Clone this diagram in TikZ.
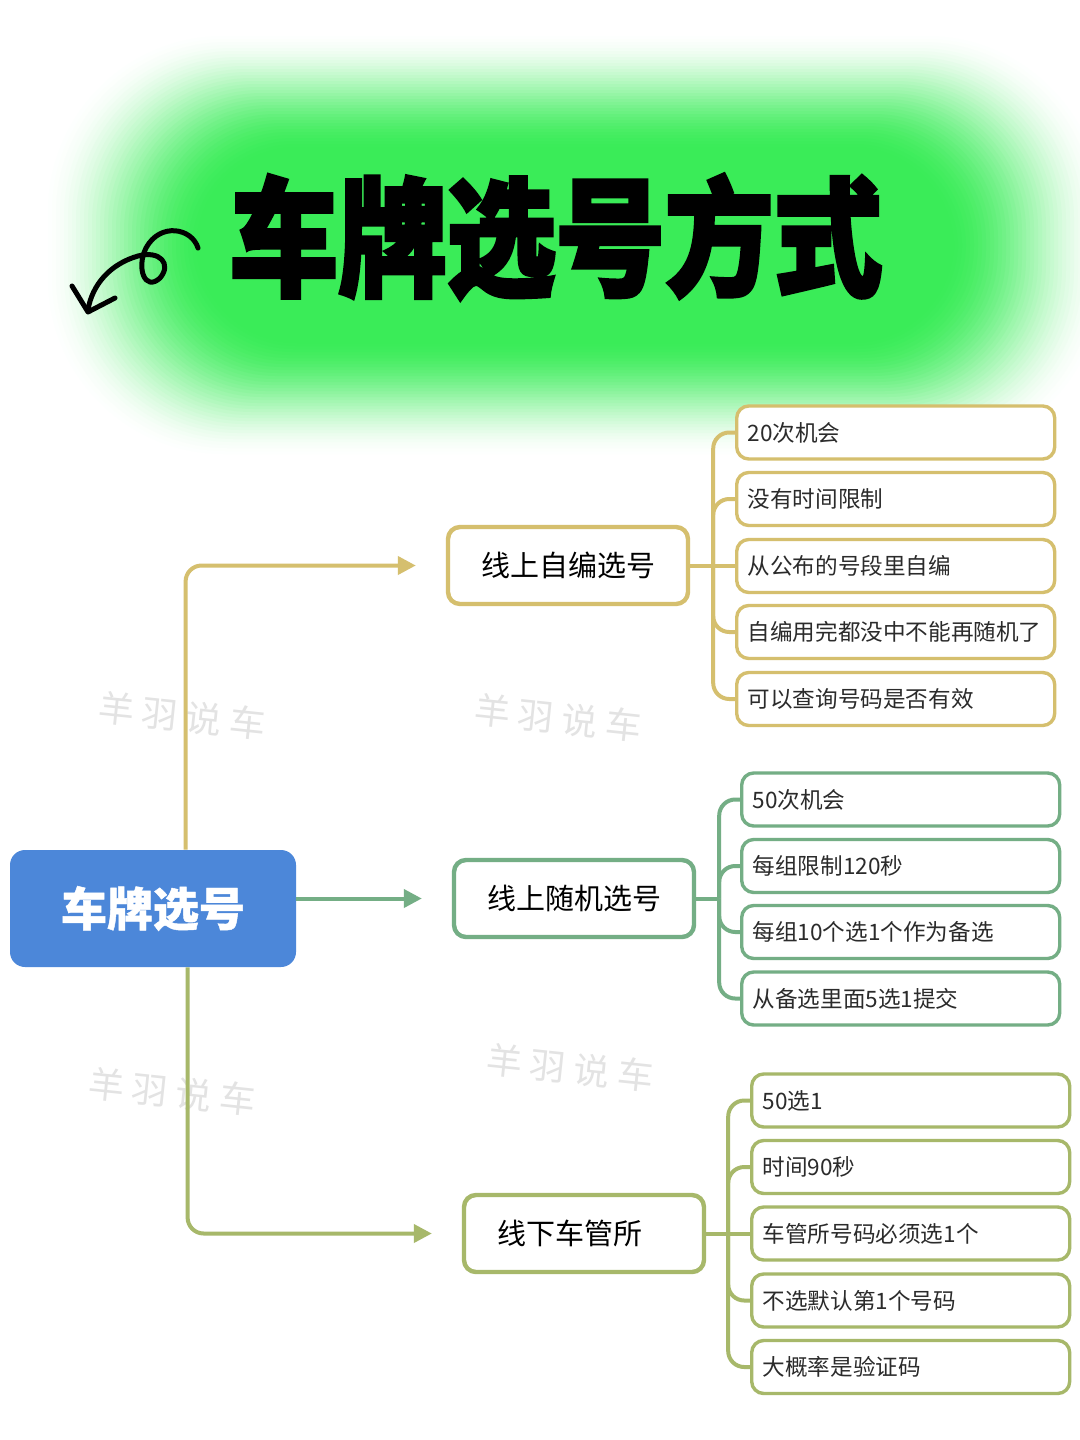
\documentclass[tikz,border=0pt]{standalone}
\usepackage{fontspec}
\setmainfont{Noto Sans CJK SC}
\newfontfamily\cjk{Noto Sans CJK SC}
\newfontfamily\titlefont[BoldFeatures={FakeBold=3}]{Noto Sans CJK SC}
\newfontfamily\rootfont[BoldFeatures={FakeBold=1}]{Noto Sans CJK SC}
\usetikzlibrary{arrows.meta,calc}
\definecolor{gold}{HTML}{D5BF6E}
\definecolor{sage}{HTML}{74AE85}
\definecolor{olivegreen}{HTML}{A7B86A}
\definecolor{rootblue}{HTML}{4C87D9}
\definecolor{glowgreen}{HTML}{3AEC58}
\definecolor{txt}{HTML}{2B2B2B}
\begin{document}
\begin{tikzpicture}[x=0.5pt,y=-0.5pt,
  mainnode/.style={draw=#1, line width=2.2pt, rounded corners=6pt, fill=white, minimum height=38.5pt, text width=87pt, inner xsep=16.5pt, inner ysep=0pt, align=left, font=\cjk\fontsize{14.5pt}{17pt}\selectfont, text=black},
  leaf/.style={draw=#1, line width=1.7pt, rounded corners=6pt, fill=white, minimum height=26.5pt, text width=148pt, inner xsep=5.5pt, inner ysep=0pt, align=left, anchor=west, font=\cjk\fontsize{11.3pt}{13pt}\selectfont, text=txt},
  conn/.style={draw=#1, line width=2pt, rounded corners=8pt},
  arr/.style={draw=#1, line width=2pt, rounded corners=8pt, -{Triangle[length=9pt,width=9pt]}, shorten >=15pt},
  wm/.style={text=gray!22, font=\cjk\fontsize{18pt}{20pt}\selectfont, rotate=-6}
]
\useasboundingbox (0,0) rectangle (1080,1440);
\fill[white] (0,0) rectangle (1080,1440);
% glow
\begin{scope}
\clip (0,0) rectangle (1080,1440);
\foreach \k in {0,...,40}{
  \pgfmathsetmacro\p{100*(3*(\k/40)^2-2*(\k/40)^3)}
  \pgfmathsetmacro\r{90-\k}
  \fill[glowgreen!\p!white, rounded corners=\r pt]
    ({40+4*\k},{30+3*\k}) rectangle ({1110-4*\k},{460-3*\k});
}
\end{scope}
% title
\node[font=\titlefont\bfseries\fontsize{64pt}{70pt}\selectfont, text=black, inner sep=0pt] (title) at (556,237) {\scalebox{0.85}[1]{车牌选号方式}};
% doodle arrow
\draw[line width=2.5pt, line cap=round, line join=round]
  (198,248) .. controls (192,228) and (160,222) .. (146,248)
  .. controls (136,268) and (145,292) .. (160,278)
  .. controls (172,264) and (160,250) .. (138,256)
  .. controls (110,264) and (92,285) .. (88,310);
\draw[line width=2.5pt, line cap=round, line join=round] (72,286) -- (88,312) -- (115,298);
% watermarks
\node[wm] (w1) at (182,716) {羊\hspace{4pt}羽\hspace{4pt}说\hspace{4pt}车};
\node[wm] (w2) at (558,718) {羊\hspace{4pt}羽\hspace{4pt}说\hspace{4pt}车};
\node[wm] (w3) at (172,1092) {羊\hspace{4pt}羽\hspace{4pt}说\hspace{4pt}车};
\node[wm] (w4) at (570,1068) {羊\hspace{4pt}羽\hspace{4pt}说\hspace{4pt}车};
% root
\node[fill=rootblue, rounded corners=7.5pt, minimum width=143pt, minimum height=58.5pt, inner sep=0pt, text=white, font=\rootfont\bfseries\fontsize{23pt}{26pt}\selectfont] (root) at (153,908.5) {车牌选号};
% main nodes
\node[mainnode=gold] (n1) at (568,565.5) {线上自编选号};
\node[mainnode=sage] (n2) at (574,898.5) {线上随机选号};
\node[mainnode=olivegreen] (n3) at (584,1233.5) {线下车管所};
% leaves branch 1
\node[leaf=gold] (a1) at (735,432.5) {20次机会};
\node[leaf=gold] (a2) at (735,499) {没有时间限制};
\node[leaf=gold] (a3) at (735,566) {从公布的号段里自编};
\node[leaf=gold] (a4) at (735,632) {自编用完都没中不能再随机了};
\node[leaf=gold] (a5) at (735,699) {可以查询号码是否有效};
% leaves branch 2
\node[leaf=sage] (b1) at (740,799.5) {50次机会};
\node[leaf=sage] (b2) at (740,866) {每组限制120秒};
\node[leaf=sage] (b3) at (740,932) {每组10个选1个作为备选};
\node[leaf=sage] (b4) at (740,998.5) {从备选里面5选1提交};
% leaves branch 3
\node[leaf=olivegreen] (d1) at (750,1100.5) {50选1};
\node[leaf=olivegreen] (d2) at (750,1167) {时间90秒};
\node[leaf=olivegreen] (d3) at (750,1233.5) {车管所号码必须选1个};
\node[leaf=olivegreen] (d4) at (750,1300.5) {不选默认第1个号码};
\node[leaf=olivegreen] (d5) at (750,1367) {大概率是验证码};
% arrows from root
\draw[arr=gold] ($(root.north west)+(176,0)$) |- (n1.west);
\draw[arr=sage] (root.east |- n2.west) -- (n2.west);
\draw[arr=olivegreen] ($(root.south west)+(178,0)$) |- (n3.west);
% leaf connectors
\draw[conn=gold] (n1.east) -- (n1.east -| a3.west);
\foreach \c in {a1,a2,a4,a5}{ \draw[conn=gold] ($(n1.east)+(23,0)$) |- (\c.west); }
\draw[conn=sage] (n2.east) -- ++(23,0);
\foreach \c in {b1,b2,b3,b4}{ \draw[conn=sage] ($(n2.east)+(23,0)$) |- (\c.west); }
\draw[conn=olivegreen] (n3.east) -- (d3.west);
\foreach \c in {d1,d2,d4,d5}{ \draw[conn=olivegreen] ($(n3.east)+(22,0)$) |- (\c.west); }
\end{tikzpicture}
\end{document}
